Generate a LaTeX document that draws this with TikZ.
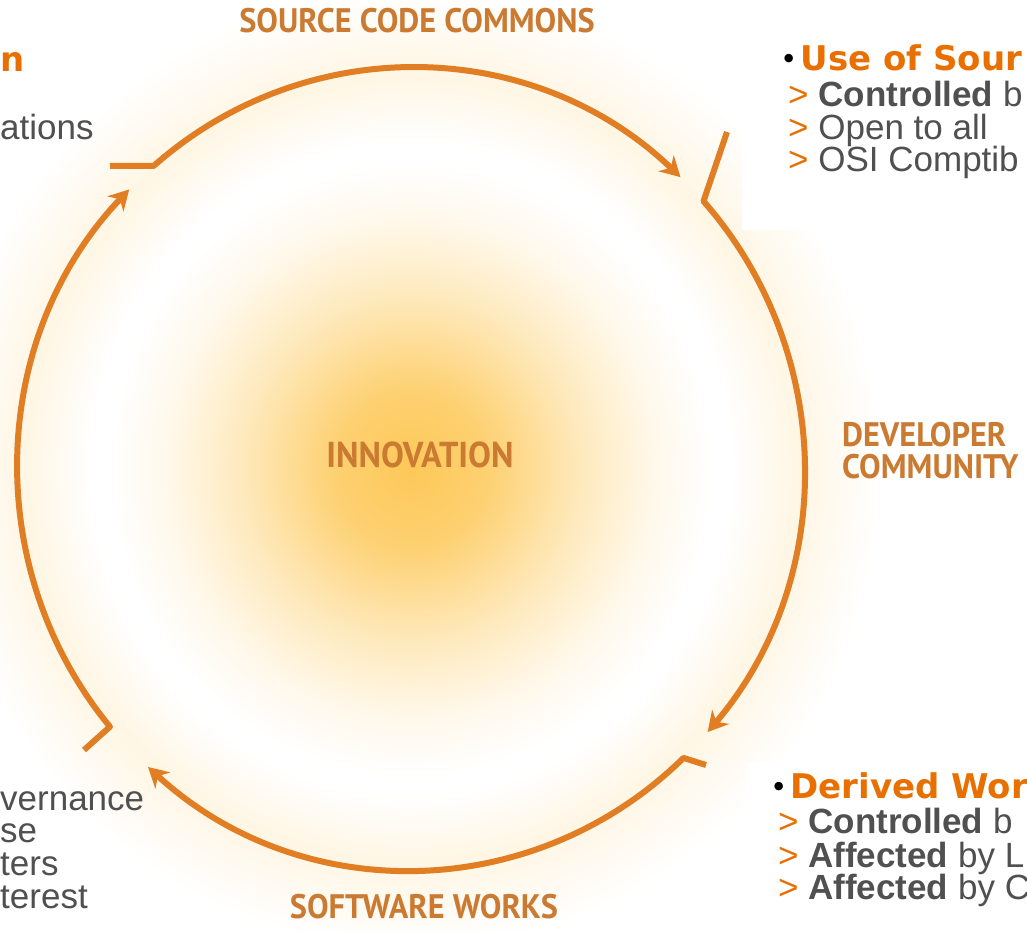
\documentclass[tikz,border=0pt]{standalone}
\usepackage{fontspec}
\setmainfont{Liberation Sans}
\newfontfamily\headfont{DejaVu Sans}
\newfontfamily\ringfont{PT Sans}[FakeStretch=0.95]
\usepackage{xcolor}
\definecolor{naranja}{RGB}{232,112,0}
\definecolor{grisTexto}{RGB}{80,80,80}
\definecolor{ocre}{RGB}{203,122,50}
\definecolor{arco}{RGB}{225,125,35}
\definecolor{brillo}{RGB}{253,200,88}
\definecolor{halo}{RGB}{255,246,228}
\usepackage{tikz}
\usetikzlibrary{arrows.meta,calc,positioning}
\pgfdeclareradialshading{resplandor}{\pgfpoint{0bp}{0bp}}{color(0bp)=(brillo); color(4bp)=(brillo!85!white); color(9bp)=(brillo!40!white); color(13bp)=(brillo!12!white); color(16bp)=(white); color(17bp)=(white); color(20.5bp)=(halo); color(25bp)=(white); color(50bp)=(white)}
\tikzstyle{ringarc}=[draw=arco, line width=6pt, line join=round,
                    -{Stealth[length=20pt,width=22pt]}]
\tikzstyle{anillo}=[anchor=base, inner sep=0pt, text=ocre,
                    font=\ringfont\bfseries\fontsize{34}{34}\selectfont]
\tikzstyle{titulo}=[anchor=base west, inner sep=0pt, text=naranja,
                    font=\headfont\bfseries\fontsize{34}{34}\selectfont]
\tikzstyle{cuerpo}=[anchor=base west, inner sep=0pt, text=grisTexto,
                    font=\fontsize{35}{35}\selectfont]
\newcommand{\vineta}{{\color{black}\fontsize{24}{24}\selectfont\raisebox{3pt}{•}}\hspace{4pt}}
\newcommand{\flecha}{\textcolor{naranja}{>}}

\begin{document}
\begin{tikzpicture}[x=1pt,y=1pt]
    \useasboundingbox (0,0) rectangle (1027,930);
    \clip (0,0) rectangle (1027,930);
    \fill[white] (0,0) rectangle (1027,930);

    \coordinate (ctr) at (411,461);
    \shade[shading=resplandor] (ctr) ellipse [x radius=470, y radius=480];
    \fill[white] (742,700) rectangle (1027,930);
    \fill[white] (748,0) rectangle (1027,168);

    % ring labels
    \draw (417,897) node (sc) [anillo] {SOURCE CODE COMMONS};
    \draw (420,463) node (in) [anillo,font=\ringfont\bfseries\fontsize{36}{36}\selectfont] {INNOVATION};
    \draw (842,483) node (de) [anillo,anchor=base west] {DEVELOPER};
    \draw (842,452) node (co) [anillo,anchor=base west] {COMMUNITY};
    \draw (424,12) node (sw) [anillo] {SOFTWARE WORKS};

    % cycle
    \coordinate (h1) at (110,764);
    \coordinate (h2) at (727,798);
    \coordinate (h3) at (706,165);
    \coordinate (h4) at (84,180);
    \foreach \h/\s/\e in {h1/130.9/46.7, h2/41.9/-41, h3/-46.1/-132, h4/220/135.8}
        \draw [ringarc] (\h) -- ([shift={(\s:393pt and 401pt)}]ctr)
            arc [start angle=\s, end angle=\e, x radius=393pt, y radius=401pt];

    % text blocks
    \draw (0,858) node (l1) [titulo] {n};
    \draw (0,790) node (l2) [cuerpo] {ations};
    \draw (0,120) node (l3) [cuerpo] {vernance};
    \draw (0,88) node (l4) [cuerpo] {se};
    \draw (0,55) node (l5) [cuerpo] {ters};
    \draw (0,22) node (l6) [cuerpo] {terest};

    \draw (781,859) node (r1) [titulo] {\vineta Use of Sour};
    \draw (788,823) node (r2) [cuerpo] {\flecha{} \textbf{Controlled} b};
    \draw (788,790) node (r3) [cuerpo] {\flecha{} Open to all};
    \draw (788,758) node (r4) [cuerpo] {\flecha{} OSI Comptib};

    \draw (771,132) node (d1) [titulo] {\vineta Derived Wor};
    \draw (778,97) node (d2) [cuerpo] {\flecha{} \textbf{Controlled} b};
    \draw (778,63) node (d3) [cuerpo] {\flecha{} \textbf{Affected} by L};
    \draw (778,31) node (d4) [cuerpo] {\flecha{} \textbf{Affected} by C};
\end{tikzpicture}
\end{document}
